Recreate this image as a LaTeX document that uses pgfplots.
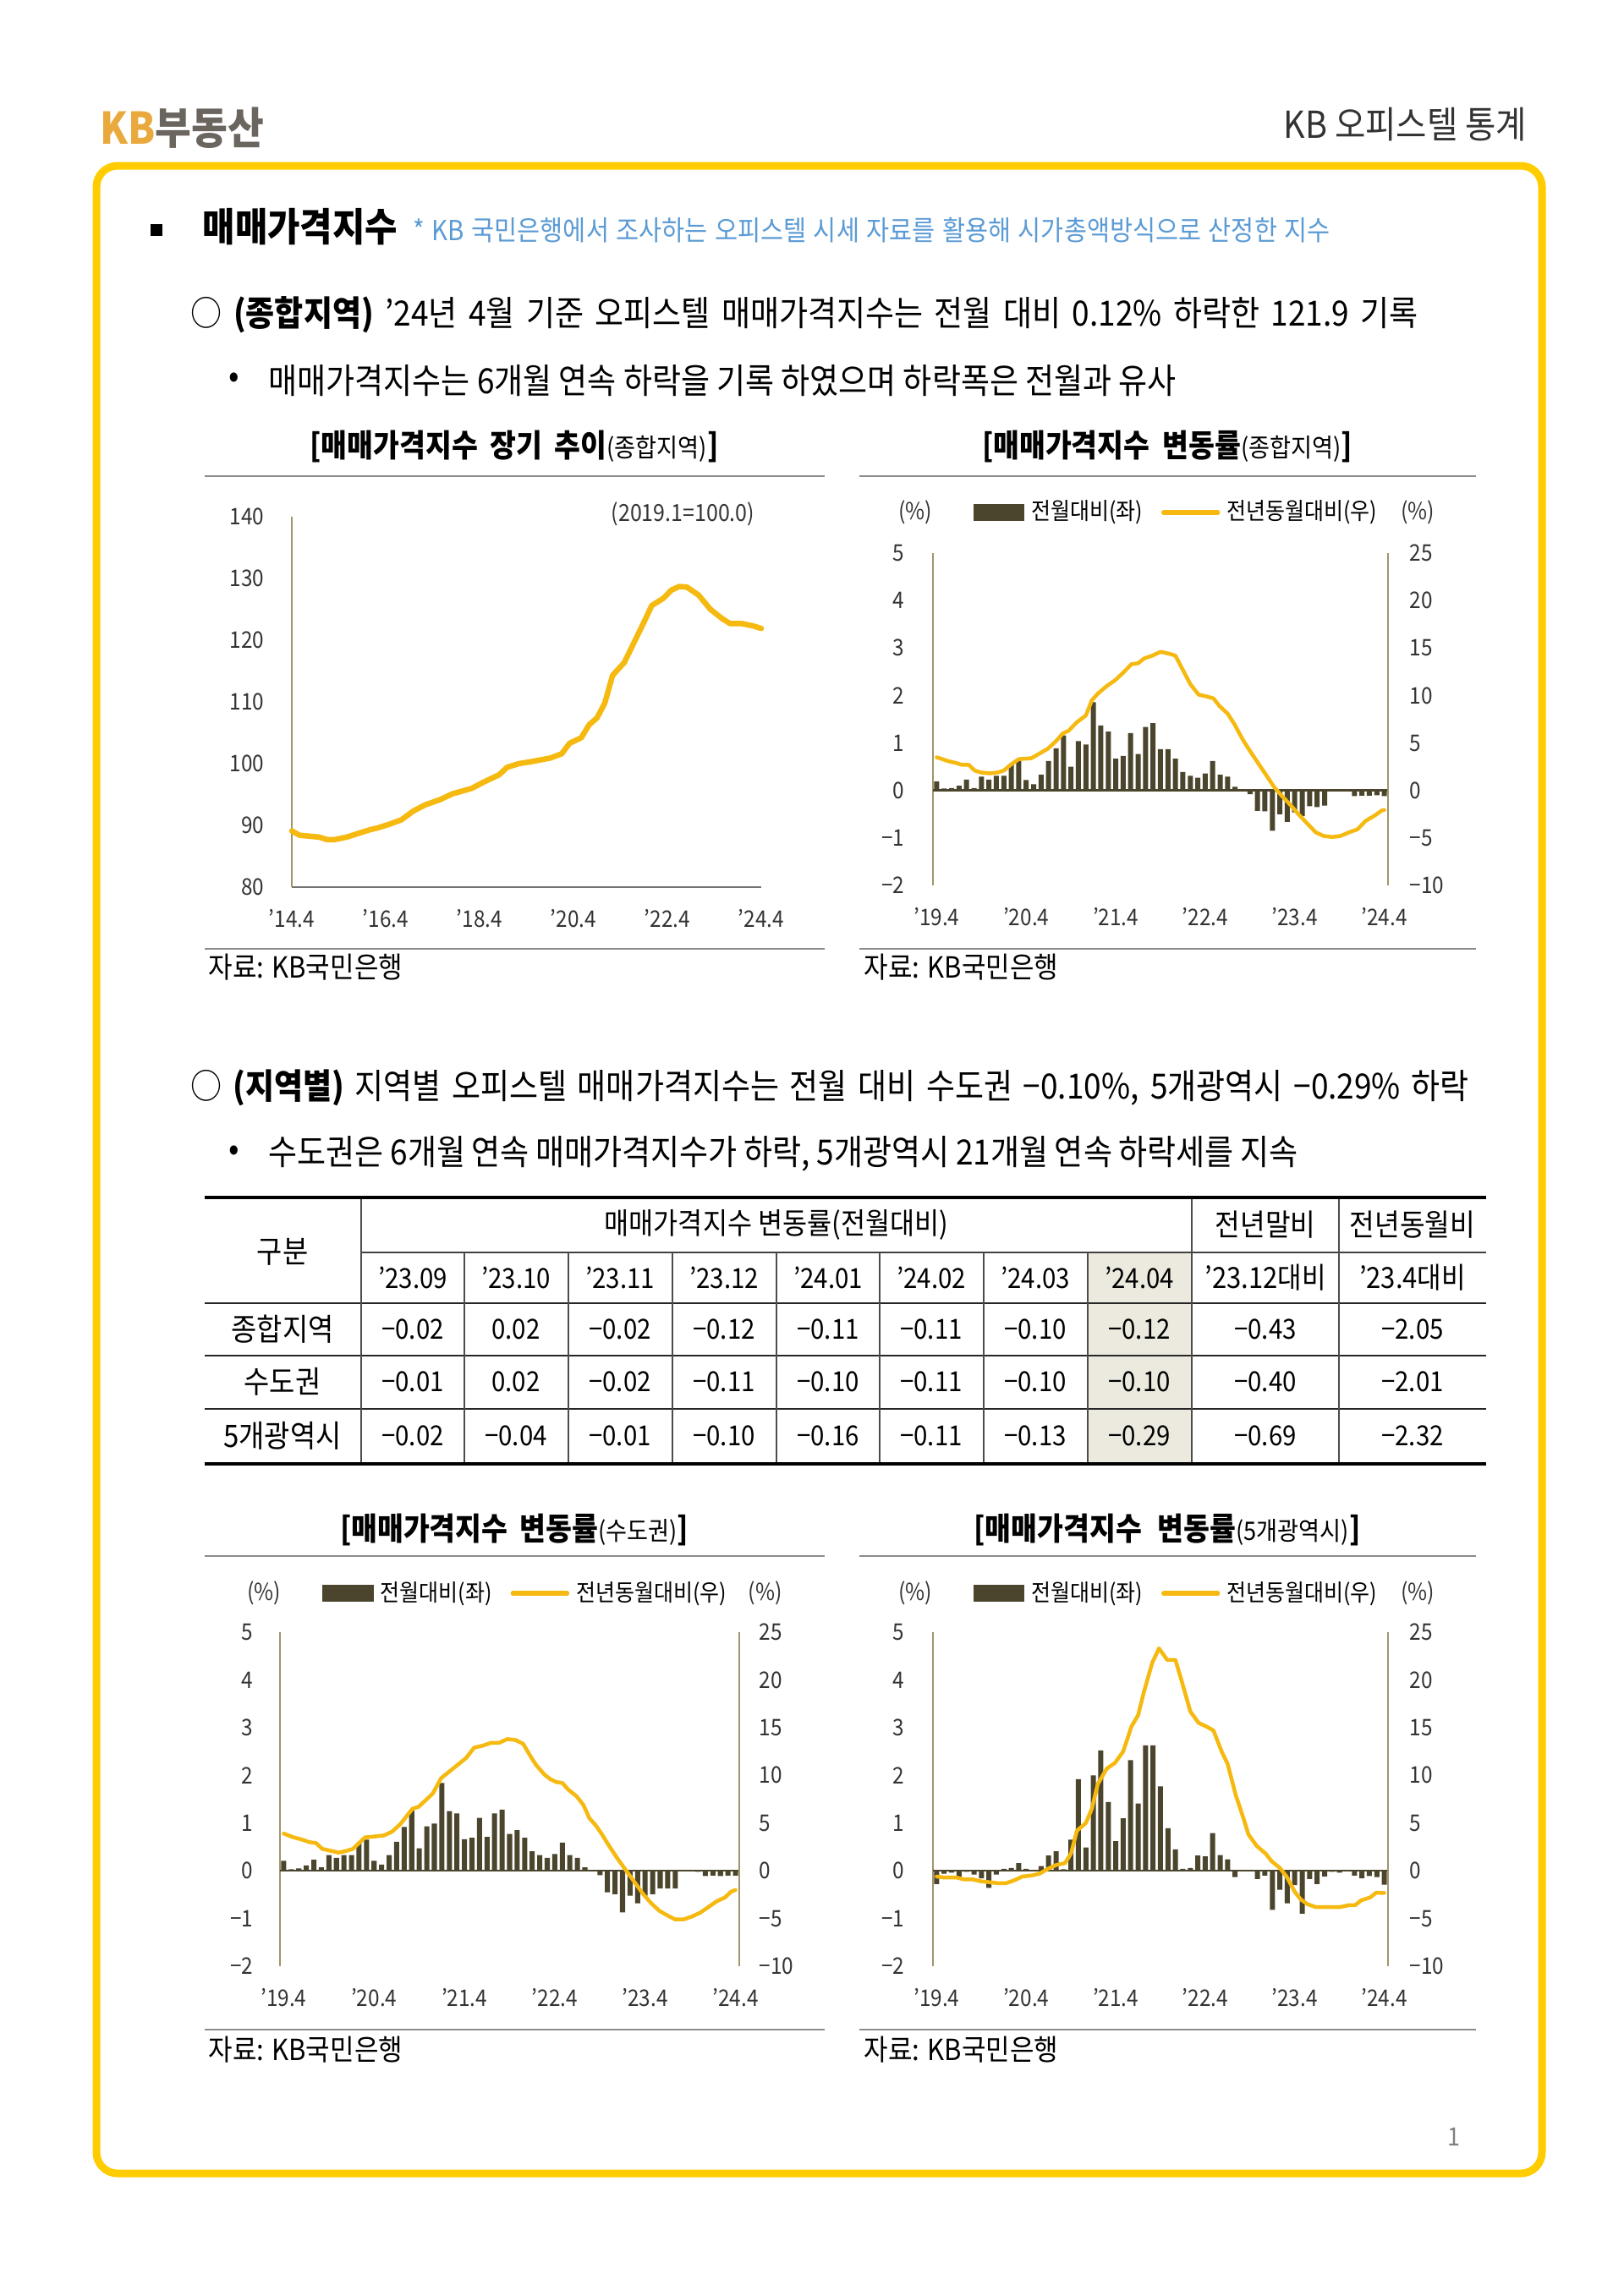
\documentclass[border=0pt]{standalone}
\usepackage{pgfplots}
\pgfplotsset{compat=1.18}
\usepackage{fontspec}
\setmainfont{Noto Sans CJK KR}[FakeStretch=0.9]
\definecolor{frameY}{HTML}{FFCC00}
\definecolor{lineY}{HTML}{F5B90F}
\definecolor{barC}{HTML}{4A452C}
\definecolor{axC}{HTML}{A0956C}
\definecolor{kbgold}{HTML}{E9A93C}
\definecolor{kbgray}{HTML}{6B6560}
\definecolor{noteblue}{HTML}{5B9BD5}
\definecolor{hl}{HTML}{ECEADF}
\newcommand{\fs}[1]{\fontsize{#1pt}{#1pt}\selectfont}

\pgfplotsset{
  base/.style={scale only axis, anchor=south west, clip=false,
    major tick length=0pt, tick style={draw=none},
    ticklabel style={font=\fs{7.7}, text=black!80, inner sep=0pt},
    /pgf/number format/assume math mode=true,
    xticklabel style={anchor=north, yshift=-2.6mm}},
  barleft/.style={base, xmin=-0.5, xmax=60.5, ymin=-2, ymax=5,
    axis x line*=bottom, x axis line style={draw=none},
    axis y line*=left, y axis line style={draw=axC, line width=0.25mm},
    xtick={0,12,24,36,48,60},
    xticklabels={’19.4,’20.4,’21.4,’22.4,’23.4,’24.4},
    ytick={-2,-1,0,1,2,3,4,5},
    yticklabels={−2,−1,0,1,2,3,4,5},
    yticklabel style={anchor=east, xshift=-3.3mm}},
  lineright/.style={base, xmin=-0.5, xmax=60.5, ymin=-10, ymax=25,
    axis x line=none,
    axis y line*=right, y axis line style={draw=axC, line width=0.25mm},
    ytick={-10,-5,0,5,10,15,20,25},
    yticklabels={−10,−5,0,5,10,15,20,25},
    yticklabel style={anchor=west, xshift=2.5mm},
    legend columns=2, legend cell align=left,
    legend style={anchor=center, draw=none, fill=none, font=\fs{7.9}, inner sep=0pt,
      /tikz/every even column/.append style={column sep=1.4mm},
      nodes={inner xsep=0.8mm, inner ysep=0pt}}},
  barplot/.style={ybar, bar width=0.68, fill=barC, draw=none},
  yoyline/.style={lineY, line width=0.45mm, line join=round, line cap=round,
    legend image code/.code={\draw[lineY, line width=0.55mm] (0mm,0mm) -- (6.4mm,0mm);}},
}
\newcommand{\barlegend}{\addlegendimage{legend image code/.code={\fill[barC] (0mm,-0.95mm) rectangle (5.9mm,0.95mm);}}\addlegendentry{전월대비(좌)}}
\newcommand{\ctitle}[3]{\makebox[#1][s]{\fs{10.6}\bfseries #2{\mdseries\fs{8.6}#3}]}}

\begin{document}
\begin{tikzpicture}
\path[use as bounding box, fill=white] (0,0) rectangle (192mm,-271.5mm);
\begin{scope}[x=0.1mm, y=-0.1mm]
% header
\node[anchor=west, inner sep=0] at (118,151) {\fs{14.7}\bfseries\textcolor{kbgold}{KB}\textcolor{kbgray}{부동산}};
\node[anchor=east, inner sep=0, text=black!80] at (1806,147) {\fs{12.5}KB 오피스텔 통계};
\draw[frameY, line width=0.9mm, rounded corners=2.5mm] (114,196) rectangle (1823,2570);
% section title
\fill[black] (178,265) rectangle (192,279);
\node[anchor=west, inner sep=0] at (239,268) {\fs{13.2}\bfseries 매매가격지수};
\node[anchor=west, inner sep=0, text=noteblue] at (488,272) {\makebox[108.4mm][s]{\fs{9.3}* KB 국민은행에서 조사하는 오피스텔 시세 자료를 활용해 시가총액방식으로 산정한 지수}};
\node[anchor=west, inner sep=0] at (225,372) {\makebox[145.1mm][s]{\fs{11.7}○ \textbf{(종합지역)} ’24년 4월 기준 오피스텔 매매가격지수는 전월 대비 0.12\% 하락한 121.9 기록}};
\node[inner sep=0] at (277,450) {\fs{11.7}•};
\node[anchor=west, inner sep=0] at (317,450) {\makebox[107.3mm][s]{\fs{11.7}매매가격지수는 6개월 연속 하락을 기록 하였으며 하락폭은 전월과 유사}};
% chart titles row 1
\node[inner sep=0] at (608,528) {\ctitle{48.3mm}{[매매가격지수 장기 추이}{(종합지역)}};
\node[inner sep=0] at (1380,528) {\ctitle{43.8mm}{[매매가격지수 변동률}{(종합지역)}};
\draw[black!45, line width=0.15mm] (242,563) -- (975,563);
\draw[black!45, line width=0.15mm] (1016,563) -- (1745,563);
\draw[black!45, line width=0.15mm] (242,1122) -- (975,1122);
\draw[black!45, line width=0.15mm] (1016,1122) -- (1745,1122);
\node[anchor=west, inner sep=0] at (246,1144) {\fs{9.8}자료: KB국민은행};
\node[anchor=west, inner sep=0] at (1021,1144) {\fs{9.8}자료: KB국민은행};
% section 2
\node[anchor=west, inner sep=0] at (225,1286) {\makebox[151.1mm][s]{\fs{11.7}○ \textbf{(지역별)} 지역별 오피스텔 매매가격지수는 전월 대비 수도권 −0.10\%, 5개광역시 −0.29\% 하락}};
\node[inner sep=0] at (277,1364) {\fs{11.7}•};
\node[anchor=west, inner sep=0] at (317,1364) {\makebox[121.7mm][s]{\fs{11.7}수도권은 6개월 연속 매매가격지수가 하락, 5개광역시 21개월 연속 하락세를 지속}};
% table
\fill[hl] (1286,1481) rectangle (1409,1731);
\draw[black!75, line width=0.12mm] (427,1481) -- (1757,1481);
\foreach \yy in {1541,1603,1666} \draw[black!85, line width=0.2mm] (242,\yy) -- (1757,\yy);
\foreach \xx in {427,1409,1583} \draw[black!70, line width=0.12mm] (\xx,1416) -- (\xx,1731);
\foreach \xx in {549,672,795,918,1040,1163,1286} \draw[black!70, line width=0.12mm] (\xx,1481) -- (\xx,1731);
\draw[black, line width=0.4mm] (242,1416) -- (1757,1416);
\draw[black, line width=0.4mm] (242,1731) -- (1757,1731);
\begin{scope}[every node/.style={inner sep=0, font=\fs{9.3}}]
\node[font=\fs{10.4}] at (334,1480) {구분};
\node[font=\fs{10}] at (918,1448) {매매가격지수 변동률(전월대비)};
\node[font=\fs{10.2}] at (1496,1448) {전년말비};
\node[font=\fs{10.2}] at (1670,1448) {전년동월비};
\foreach \xx/\t in {488/’23.09, 610/’23.10, 733/’23.11, 856/’23.12, 979/’24.01, 1101/’24.02, 1224/’24.03, 1347/’24.04} \node at (\xx,1511) {\t};
\node[font=\fs{9.8}] at (1496,1511) {’23.12대비};
\node[font=\fs{9.8}] at (1670,1511) {’23.4대비};
\node[font=\fs{10.4}] at (334,1572) {종합지역};
\node[font=\fs{10.4}] at (334,1634) {수도권};
\node[font=\fs{10.4}] at (334,1698) {5개광역시};
\foreach \xx/\t in {488/−0.02, 610/0.02, 733/−0.02, 856/−0.12, 979/−0.11, 1101/−0.11, 1224/−0.10, 1347/−0.12, 1496/−0.43, 1670/−2.05} \node at (\xx,1572) {\t};
\foreach \xx/\t in {488/−0.01, 610/0.02, 733/−0.02, 856/−0.11, 979/−0.10, 1101/−0.11, 1224/−0.10, 1347/−0.10, 1496/−0.40, 1670/−2.01} \node at (\xx,1634) {\t};
\foreach \xx/\t in {488/−0.02, 610/−0.04, 733/−0.01, 856/−0.10, 979/−0.16, 1101/−0.11, 1224/−0.13, 1347/−0.29, 1496/−0.69, 1670/−2.32} \node at (\xx,1698) {\t};
\end{scope}
% chart titles row 2
\node[inner sep=0] at (608,1809) {\ctitle{41.2mm}{[매매가격지수 변동률}{(수도권)}};
\node[inner sep=0] at (1380,1809) {\ctitle{45.7mm}{[매매가격지수 변동률}{(5개광역시)}};
\draw[black!45, line width=0.15mm] (242,1840) -- (975,1840);
\draw[black!45, line width=0.15mm] (1016,1840) -- (1745,1840);
\draw[black!45, line width=0.15mm] (242,2400) -- (975,2400);
\draw[black!45, line width=0.15mm] (1016,2400) -- (1745,2400);
\node[anchor=west, inner sep=0] at (246,2424) {\fs{9.8}자료: KB국민은행};
\node[anchor=west, inner sep=0] at (1021,2424) {\fs{9.8}자료: KB국민은행};
\node[inner sep=0, text=black!50] at (1719,2527) {\fs{8.5}1};
\end{scope}

% ---------- Chart 1 ----------
\begin{axis}[base, at={(34.5mm,-104.9mm)}, width=55.5mm, height=43.8mm,
  xmin=0, xmax=120, ymin=80, ymax=140,
  axis x line*=bottom, axis y line*=left,
  x axis line style={draw=black!55, line width=0.25mm},
  y axis line style={draw=axC, line width=0.25mm},
  xtick={0,24,48,72,96,120},
  xticklabels={’14.4,’16.4,’18.4,’20.4,’22.4,’24.4},
  ytick={80,90,100,110,120,130,140},
  yticklabels={80,90,100,110,120,130,140},
  yticklabel style={anchor=east, xshift=-3.2mm}]
\addplot[lineY, line width=0.65mm, line join=round, line cap=round] coordinates {
(0,89.1) (2,88.4) (7,88.1) (9,87.7) (11,87.7) (14,88.1) (17,88.7) (20,89.3) (22,89.6) (25,90.2) (28,90.9) (31,92.3) (34,93.3) (38,94.2) (41,95.1) (46,96.0) (49,97.0) (53,98.2) (55,99.4) (58,100.0) (61,100.3) (66,100.9) (69,101.6) (71,103.3) (74,104.2) (76,106.3) (78,107.4) (80,109.8) (82,114.3) (85,116.4) (87,119.0) (90,122.9) (92,125.6) (95,126.8) (97,128.1) (99,128.7) (101,128.6) (104,127.3) (107,125.0) (110,123.5) (112,122.7) (115,122.7) (118,122.3) (120,121.9)};
\node[font=\fs{7.9}, inner sep=0, text=black!80] at (axis cs:100,140.4) {(2019.1=100.0)};
\end{axis}

% ---------- Chart 2 ----------
\begin{axis}[barleft, at={(110.3mm,-104.7mm)}, width=53.8mm, height=39.3mm]
\addplot[barplot] coordinates {
(0,0.19) (1,0.04) (2,0.05) (3,0.10) (4,0.23) (5,0.05) (6,0.29) (7,0.23) (8,0.31) (9,0.31)
(10,0.56) (11,0.64) (12,0.22) (13,0.13) (14,0.33) (15,0.62) (16,0.89) (17,1.16) (18,0.50) (19,1.04)
(20,0.97) (21,1.86) (22,1.37) (23,1.24) (24,0.67) (25,0.73) (26,1.21) (27,0.77) (28,1.34) (29,1.42)
(30,0.87) (31,0.87) (32,0.67) (33,0.39) (34,0.31) (35,0.27) (36,0.36) (37,0.62) (38,0.33) (39,0.29)
(40,0.08) (41,0.00) (42,-0.08) (43,-0.43) (44,-0.44) (45,-0.85) (46,-0.50) (47,-0.66) (48,-0.46) (49,-0.54)
(50,-0.33) (51,-0.35) (52,-0.32) (53,-0.02) (54,0.02) (55,-0.02) (56,-0.12) (57,-0.11) (58,-0.11) (59,-0.10) (60,-0.12)};
\draw[barC, line width=0.25mm] (axis cs:-0.5,0) -- (axis cs:60.5,0);
\end{axis}
\begin{axis}[lineright, at={(110.3mm,-104.7mm)}, width=53.8mm, height=39.3mm,
  legend style={at={(0.54,1.122)}}]
\barlegend
\addplot[yoyline] coordinates {
(0,3.5) (1.5,3.1) (2.6,2.9) (3.4,2.7) (4.3,2.7) (5.1,2.1) (5.9,1.9) (7.1,1.8) (8.2,1.9) (9,2.1) (9.9,2.7) (11,3.3) (12.7,3.4) (13.8,3.9) (14.9,4.4) (16,5.2) (16.9,6.0) (17.7,6.3) (18.8,7.2) (20,7.9) (20.8,9.5) (21.6,10.2) (22.8,11.0) (23.9,11.6) (25,12.4) (26.1,13.3) (27,13.4) (27.8,13.9) (28.9,14.2) (30,14.6) (31.2,14.4) (32,14.2) (32.8,13.0) (34,11.2) (35.1,10.1) (36.2,9.9) (37.1,9.7) (37.9,8.9) (39,8.1) (39.9,7.0) (41,5.4) (41.8,4.4) (42.9,3.1) (44.1,1.7) (45.2,0.4) (46.3,-0.6) (47.4,-1.5) (48.5,-2.5) (49.7,-3.5) (50.8,-4.4) (51.9,-4.8) (53,-4.9) (54.1,-4.8) (55.3,-4.4) (56.4,-4.1) (57.5,-3.2) (58.6,-2.7) (59.7,-2.1) (60,-2.05)};
\addlegendentry{전년동월대비(우)}
\node[font=\fs{7.9}, inner sep=0, text=black!80] at (rel axis cs:-0.039,1.122) {(\%)};
\node[font=\fs{7.9}, inner sep=0, text=black!80] at (rel axis cs:1.065,1.122) {(\%)};
\end{axis}

% ---------- Chart 3 ----------
\begin{axis}[barleft, at={(33.1mm,-232.5mm)}, width=54.3mm, height=39.5mm,
  yticklabel style={xshift=0.2mm}]
\addplot[barplot] coordinates {
(0,0.21) (1,0.03) (2,0.05) (3,0.11) (4,0.23) (5,0.07) (6,0.33) (7,0.27) (8,0.33) (9,0.33)
(10,0.59) (11,0.65) (12,0.21) (13,0.13) (14,0.33) (15,0.61) (16,0.92) (17,1.26) (18,0.47) (19,0.93)
(20,0.99) (21,1.84) (22,1.25) (23,1.20) (24,0.66) (25,0.69) (26,1.11) (27,0.71) (28,1.20) (29,1.28)
(30,0.77) (31,0.85) (32,0.69) (33,0.41) (34,0.33) (35,0.27) (36,0.35) (37,0.59) (38,0.33) (39,0.27)
(40,0.07) (41,0.00) (42,-0.09) (43,-0.45) (44,-0.49) (45,-0.87) (46,-0.52) (47,-0.68) (48,-0.52) (49,-0.49)
(50,-0.37) (51,-0.37) (52,-0.37) (53,-0.01) (54,0.02) (55,-0.02) (56,-0.11) (57,-0.10) (58,-0.11) (59,-0.10) (60,-0.10)};
\draw[barC, line width=0.25mm] (axis cs:-0.5,0) -- (axis cs:60.5,0);
\end{axis}
\begin{axis}[lineright, at={(33.1mm,-232.5mm)}, width=54.3mm, height=39.5mm,
  yticklabel style={xshift=-0.2mm},
  legend style={at={(0.54,1.116)}}]
\barlegend
\addplot[yoyline] coordinates {
(0,3.9) (1.3,3.5) (2.3,3.3) (3.4,3.0) (4.3,2.9) (5.1,2.3) (6.2,2.1) (7.3,1.9) (8.4,2.1) (9.2,2.3) (10,2.9) (10.8,3.5) (12.2,3.6) (13.3,3.7) (14.4,4.1) (15.5,4.9) (16.3,5.7) (17.1,6.5) (17.9,6.7) (19,7.5) (19.8,8.1) (20.9,9.7) (22,10.4) (23.1,11.1) (24.2,11.8) (25.3,12.9) (26.4,13.1) (27.5,13.4) (28.6,13.4) (29.7,13.8) (30.8,13.7) (31.8,13.3) (32.7,12.1) (33.5,11.1) (34.6,10.1) (35.4,9.6) (36.2,9.3) (37,9.2) (37.8,8.5) (38.9,7.8) (39.8,6.9) (40.6,5.5) (41.4,4.8) (42.2,3.9) (43.3,2.5) (44.4,1.2) (45.5,0) (46.6,-1.2) (47.7,-2.4) (48.8,-3.4) (49.9,-4.2) (51,-4.7) (52,-5.1) (53.1,-5.1) (54.2,-4.8) (55.3,-4.4) (56.4,-3.8) (57.5,-3.2) (58.6,-2.8) (59.4,-2.2) (60,-2.01)};
\addlegendentry{전년동월대비(우)}
\node[font=\fs{7.9}, inner sep=0, text=black!80] at (rel axis cs:-0.035,1.116) {(\%)};
\node[font=\fs{7.9}, inner sep=0, text=black!80] at (rel axis cs:1.057,1.116) {(\%)};
\end{axis}

% ---------- Chart 4 ----------
\begin{axis}[barleft, at={(110.3mm,-232.5mm)}, width=53.8mm, height=39.5mm]
\addplot[barplot] coordinates {
(0,-0.28) (1,-0.06) (2,-0.04) (3,-0.12) (4,-0.02) (5,-0.08) (6,-0.16) (7,-0.36) (8,-0.08) (9,0.04)
(10,0.06) (11,0.16) (12,0.04) (13,0.01) (14,0.10) (15,0.32) (16,0.41) (17,0.03) (18,0.65) (19,1.92)
(20,0.49) (21,2.00) (22,2.52) (23,1.44) (24,0.62) (25,1.10) (26,2.32) (27,1.41) (28,2.63) (29,2.63)
(30,1.77) (31,0.89) (32,0.45) (33,0.04) (34,0.06) (35,0.32) (36,0.30) (37,0.79) (38,0.33) (39,0.24)
(40,-0.13) (41,0.00) (42,0.00) (43,-0.17) (44,-0.10) (45,-0.82) (46,-0.40) (47,-0.68) (48,-0.30) (49,-0.90)
(50,-0.17) (51,-0.28) (52,-0.12) (53,-0.02) (54,-0.04) (55,-0.01) (56,-0.10) (57,-0.16) (58,-0.11) (59,-0.13) (60,-0.29)};
\draw[barC, line width=0.25mm] (axis cs:-0.5,0) -- (axis cs:60.5,0);
\end{axis}
\begin{axis}[lineright, at={(110.3mm,-232.5mm)}, width=53.8mm, height=39.5mm,
  legend style={at={(0.54,1.116)}}]
\barlegend
\addplot[yoyline] coordinates {
(0,-0.6) (0.9,-0.7) (2.6,-0.7) (3.7,-0.9) (4.8,-0.9) (5.9,-1.1) (7.1,-1.2) (8.2,-1.3) (9.3,-1.3) (10.4,-1.0) (11.5,-0.6) (12.7,-0.5) (13.8,-0.3) (14.9,0.2) (16,0.6) (17.2,0.8) (18,1.8) (18.8,4.2) (20,5.0) (20.8,6.5) (21.6,9.1) (22.8,10.7) (23.9,11.3) (25,12.5) (26.1,15.1) (27,16.3) (27.8,18.8) (28.9,21.8) (29.8,23.3) (30.9,22.1) (32,22.1) (32.8,20.0) (34,16.7) (35.1,15.5) (36.2,15.1) (37.1,14.7) (38.2,12.5) (39,11.2) (40.1,7.9) (41,5.8) (41.8,3.8) (42.9,2.6) (44.1,1.8) (44.9,1.0) (46,0.3) (46.9,-0.6) (48,-2.2) (48.8,-3.0) (49.7,-3.5) (50.8,-3.8) (51.9,-3.8) (53,-3.8) (54.1,-3.8) (55.3,-3.6) (56.1,-3.6) (56.9,-3.1) (58.1,-2.8) (58.9,-2.3) (60,-2.32)};
\addlegendentry{전년동월대비(우)}
\node[font=\fs{7.9}, inner sep=0, text=black!80] at (rel axis cs:-0.039,1.116) {(\%)};
\node[font=\fs{7.9}, inner sep=0, text=black!80] at (rel axis cs:1.065,1.116) {(\%)};
\end{axis}
\end{tikzpicture}
\end{document}
